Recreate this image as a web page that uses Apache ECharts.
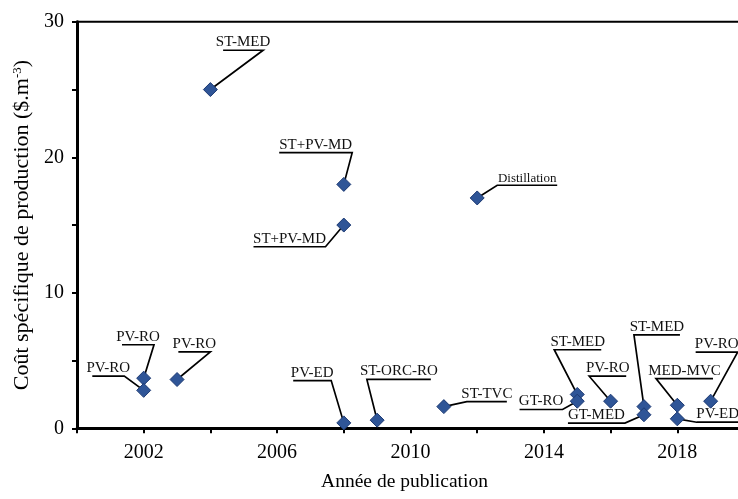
<!DOCTYPE html>
<html>
<head>
<meta charset="utf-8">
<script src="https://cdn.jsdelivr.net/npm/echarts@6/dist/echarts.min.js"></script>
<style>html,body{margin:0;padding:0;background:#fff;}#main{width:738px;height:499px;}</style>
</head>
<body>
<div id="main"></div>
<script>
// ---- data ----
var years = [2004, 2008, 2008, 2012, 2002, 2002, 2003, 2008, 2009, 2011, 2015, 2015, 2016, 2017, 2017, 2018, 2018, 2019];
var costs = [25, 18, 15, 17, 3.7, 2.8, 3.6, 0.4, 0.6, 1.6, 2.5, 2.0, 2.0, 1.6, 1.0, 1.7, 0.7, 2.0];
var names = ['ST-MED','ST+PV-MD','ST+PV-MD','Distillation','PV-RO','PV-RO','PV-RO','PV-ED','ST-ORC-RO','ST-TVC','ST-MED','GT-RO','PV-RO','ST-MED','GT-MED','MED-MVC','PV-ED','PV-RO'];
var xTickLabels = [2002, 2006, 2010, 2014, 2018];
var yTickLabels = [0, 10, 20, 30];

// ---- annotation layout (pixel offsets of leader elbow from point, underline direction, underline length, font size) ----
var labelLayout = [
  [52.7, -39.3, -1, 40, 15],
  [8.4, -31.7, -1, 73, 15],
  [-18.3, 21.7, -1, 72, 15],
  [20, -12.7, 1, 60, 13],
  [10.3, -33.4, -1, 32, 15],
  [-19.4, -14.3, -1, 32, 15],
  [33.3, -27.6, -1, 32, 15],
  [-12.6, -42.3, -1, 38, 15],
  [-10.3, -40.7, 1, 64, 15],
  [23, -5, 1, 40, 15],
  [-23, -44.7, 1, 47, 15],
  [-14.7, 8.3, -1, 43, 15],
  [-21.4, -25, 1, 37, 15],
  [-10, -71.7, 1, 46, 15],
  [-19, 8.3, -1, 57, 15],
  [-21.3, -26.7, 1, 57, 15],
  [19.4, 3.4, 1, 42, 15],
  [27, -49, -1, 42, 15]
];

var points = years.map(function (y, i) { return [y, costs[i]]; });

var chart = echarts.init(document.getElementById('main'));
var serif = '"Liberation Serif", "Times New Roman", serif';

chart.setOption({
  animation: false,
  backgroundColor: '#fff',
  grid: {
    left: 77, top: 21.8, width: 667, height: 406.5,
    outerBoundsMode: 'none', containLabel: false,
    show: true, borderColor: '#000', borderWidth: 2, backgroundColor: 'transparent'
  },
  xAxis: {
    type: 'value', min: 2000, max: 2020, interval: 2,
    name: 'Année de publication', nameLocation: 'middle', nameGap: 44,
    nameTextStyle: { fontFamily: serif, fontSize: 19.5, color: '#000', padding: [0, 12, 0, 0] },
    axisLine: { show: true, lineStyle: { color: '#000', width: 3 } },
    axisTick: { show: true, inside: false, length: 5, lineStyle: { color: '#000', width: 2 } },
    splitLine: { show: false },
    axisLabel: {
      margin: 14, fontFamily: serif, fontSize: 20, color: '#000',
      formatter: function (v) { return xTickLabels.indexOf(v) >= 0 ? String(v) : ''; }
    }
  },
  yAxis: {
    type: 'value', min: 0, max: 30, interval: 5,
    name: 'Coût spécifique de production ($.m{sup|-3})', nameLocation: 'middle', nameGap: 42, nameRotate: 90,
    nameTextStyle: {
      fontFamily: serif, fontSize: 22, color: '#000',
      rich: { sup: { fontFamily: serif, fontSize: 13, verticalAlign: 'top', color: '#000', lineHeight: 13 } }
    },
    axisLine: { show: true, lineStyle: { color: '#000', width: 3 } },
    axisTick: { show: true, inside: false, length: 5, lineStyle: { color: '#000', width: 2 } },
    splitLine: { show: false },
    axisLabel: {
      margin: 13, fontFamily: serif, fontSize: 20, color: '#000',
      formatter: function (v) { return yTickLabels.indexOf(v) >= 0 ? String(v) : ''; }
    }
  },
  series: [
    {
      type: 'custom',
      z: 2,
      data: points,
      renderItem: function (params, api) {
        var i = params.dataIndex;
        var p = api.coord([api.value(0), api.value(1)]);
        var L = labelLayout[i];
        var ex = p[0] + L[0], ey = p[1] + L[1];
        var fx = ex + L[2] * L[3];
        var cx = (ex + fx) / 2;
        return {
          type: 'group',
          children: [
            { type: 'polyline', shape: { points: [p, [ex, ey], [fx, ey]] },
              style: { stroke: '#000', lineWidth: 1.7, fill: null } },
            { type: 'text', x: cx, y: ey - 0.5,
              style: { text: names[i], fontFamily: serif, fontSize: L[4], fill: '#111', align: 'center', verticalAlign: 'bottom' } }
          ]
        };
      }
    },
    {
      type: 'scatter',
      z: 3,
      data: points,
      symbol: 'diamond',
      symbolSize: 14,
      itemStyle: { color: '#2f5597', borderColor: '#1d3a73', borderWidth: 1, opacity: 1 }
    }
  ]
});
</script>
</body>
</html>
